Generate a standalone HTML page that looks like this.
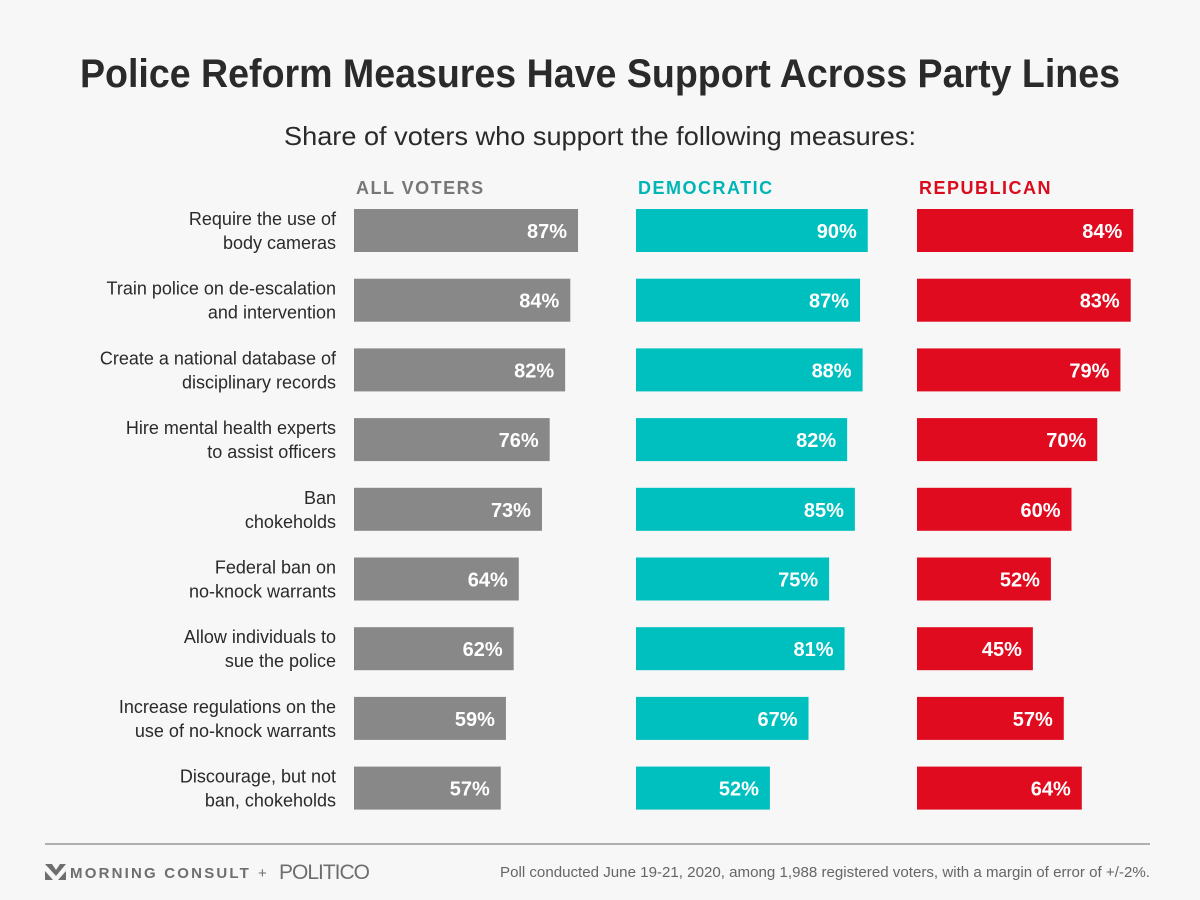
<!DOCTYPE html>
<html><head><meta charset="utf-8"><style>
body{margin:0;background:#f7f7f7;}
svg{display:block;font-family:"Liberation Sans",sans-serif;}
</style></head><body>
<svg id="chart" width="1200" height="900" viewBox="0 0 1200 900">
<rect width="1200" height="900" fill="#f7f7f7"/>
<text x="600" y="87" text-anchor="middle" font-size="40" font-weight="bold" fill="#2a2a2a" textLength="1040" lengthAdjust="spacingAndGlyphs">Police Reform Measures Have Support Across Party Lines</text>
<text x="600" y="145" text-anchor="middle" font-size="26" fill="#2a2a2a" textLength="632" lengthAdjust="spacingAndGlyphs">Share of voters who support the following measures:</text>
<g id="bars"></g>
<line x1="45" y1="844" x2="1150" y2="844" stroke="#999" stroke-width="1.5"/>
<g>
<polygon points="45,864 52,864 56,870 60,864 66,864 56,876" fill="#6e6e6e"/>
<polygon points="45,871 45,880 53,880" fill="#6e6e6e"/>
<polygon points="66,871 66,880 58,880" fill="#6e6e6e"/>
<text x="70" y="878" font-size="15" font-weight="bold" fill="#6e6e6e" letter-spacing="2.2">MORNING CONSULT</text>
<text x="258" y="878" font-size="15" fill="#6e6e6e">+</text>
<text x="279" y="879" font-size="21" fill="#6e6e6e" letter-spacing="-1">POLITICO</text>
</g>
<text x="1150" y="877" text-anchor="end" font-size="15" fill="#666" textLength="650" lengthAdjust="spacingAndGlyphs">Poll conducted June 19-21, 2020, among 1,988 registered voters, with a margin of error of +/-2%.</text>
</svg>
<script>
const categories=[["Require the use of","body cameras"],["Train police on de-escalation","and intervention"],["Create a national database of","disciplinary records"],["Hire mental health experts","to assist officers"],["Ban","chokeholds"],["Federal ban on","no-knock warrants"],["Allow individuals to","sue the police"],["Increase regulations on the","use of no-knock warrants"],["Discourage, but not","ban, chokeholds"]];
const allVoters=[87,84,82,76,73,64,62,59,57];
const democratic=[90,87,88,82,85,75,81,67,52];
const republican=[84,83,79,70,60,52,45,57,64];
const seriesNames=["ALL VOTERS","DEMOCRATIC","REPUBLICAN"];
const series=[allVoters,democratic,republican];
const colors=["#888888","#00bfbf","#e00b1f"];
const headColors=["#777777","#00b5b5","#d90b1c"];
const x0=[354,636,917];
const pxPer=2.575;
const xScale=(v,s)=>x0[s]+v*pxPer;
const rowTop=i=>209+i*69.7;
const barH=43;
const ns="http://www.w3.org/2000/svg";
const g=document.getElementById('bars');
function mk(t,a){const e=document.createElementNS(ns,t);for(const k in a)e.setAttribute(k,a[k]);g.appendChild(e);return e;}
seriesNames.forEach((n,s)=>{
 const t=mk('text',{x:x0[s]+2,y:194,'font-size':18,'font-weight':'bold',fill:headColors[s],'letter-spacing':'1.5'});
 
 
 t.textContent=n;
});
categories.forEach((c,i)=>{
 const y=rowTop(i);
 c.forEach((line,j)=>{
  const t=mk('text',{x:336,y:y+16+j*24,'text-anchor':'end','font-size':18,fill:'#2a2a2a'});
  
  
  t.textContent=line;
 });
 series.forEach((arr,s)=>{
  const r=mk('rect',{x:x0[s],y:y,width:xScale(arr[i],s)-x0[s],height:barH,fill:colors[s]});
  
  
  const t=mk('text',{x:xScale(arr[i],s)-11,y:y+29,'text-anchor':'end','font-size':20,'font-weight':'bold',fill:'#fff'});
  
  
  t.textContent=arr[i]+'%';
 });
});
</script>
</body></html>
